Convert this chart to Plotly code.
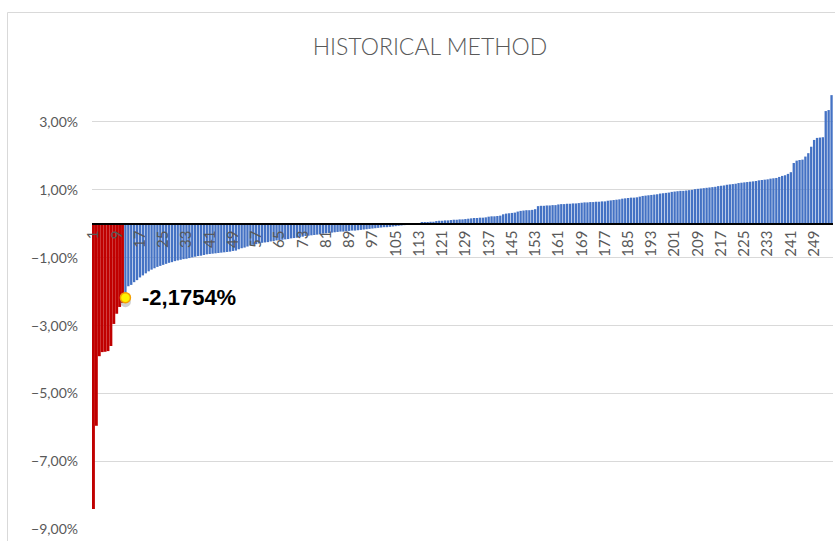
import plotly.graph_objects as go

# Sorted daily returns (in %)
returns_pct = [
    -8.40, -5.95, -3.90, -3.78, -3.77, -3.75, -3.60, -2.95, -2.65, -2.45,
    -2.33, -2.1754, -1.84, -1.80, -1.72, -1.66, -1.58, -1.52, -1.46, -1.40,
    -1.35, -1.31, -1.27, -1.24, -1.21, -1.18, -1.15, -1.13, -1.10, -1.08,
    -1.06, -1.04, -1.03, -1.01, -0.99, -0.97, -0.95, -0.94, -0.92, -0.90,
    -0.89, -0.88, -0.87, -0.86, -0.85, -0.84, -0.83, -0.82, -0.80, -0.79,
    -0.75, -0.72, -0.70, -0.67, -0.64, -0.62, -0.60, -0.58, -0.56, -0.55,
    -0.54, -0.52, -0.51, -0.49, -0.48, -0.47, -0.46, -0.45, -0.43, -0.42,
    -0.41, -0.39, -0.38, -0.36, -0.35, -0.34, -0.33, -0.32, -0.31, -0.29,
    -0.28, -0.27, -0.26, -0.25, -0.24, -0.23, -0.23, -0.22, -0.21, -0.20,
    -0.20, -0.19, -0.18, -0.17, -0.16, -0.15, -0.14, -0.13, -0.12, -0.11,
    -0.10, -0.10, -0.09, -0.08, -0.07, -0.06, -0.05, -0.04, -0.03, -0.02,
    -0.01, -0.01, 0.00, 0.04, 0.05, 0.05, 0.06, 0.06, 0.08, 0.09,
    0.09, 0.10, 0.10, 0.11, 0.12, 0.12, 0.13, 0.13, 0.14, 0.15,
    0.16, 0.17, 0.17, 0.18, 0.18, 0.19, 0.21, 0.22, 0.22, 0.23,
    0.24, 0.28, 0.30, 0.31, 0.32, 0.33, 0.36, 0.38, 0.39, 0.40,
    0.40, 0.41, 0.43, 0.52, 0.53, 0.53, 0.54, 0.54, 0.55, 0.55,
    0.57, 0.58, 0.58, 0.59, 0.59, 0.60, 0.60, 0.61, 0.62, 0.63,
    0.63, 0.64, 0.64, 0.65, 0.65, 0.66, 0.66, 0.68, 0.69, 0.70,
    0.71, 0.72, 0.74, 0.75, 0.76, 0.77, 0.77, 0.78, 0.80, 0.82,
    0.83, 0.84, 0.85, 0.86, 0.87, 0.89, 0.90, 0.91, 0.92, 0.94,
    0.95, 0.96, 0.97, 0.97, 0.98, 0.99, 1.00, 1.02, 1.03, 1.04,
    1.05, 1.06, 1.07, 1.08, 1.09, 1.11, 1.12, 1.13, 1.15, 1.16,
    1.17, 1.18, 1.20, 1.21, 1.22, 1.23, 1.24, 1.25, 1.26, 1.28,
    1.29, 1.30, 1.31, 1.33, 1.34, 1.35, 1.38, 1.41, 1.43, 1.47,
    1.52, 1.79, 1.86, 1.88, 1.89, 1.98, 2.08, 2.27, 2.47, 2.53,
    2.54, 2.55, 3.32, 3.35, 3.79,
]
var_index = 12
var_pct = -2.1754

observations = list(range(1, len(returns_pct) + 1))
tick_positions = list(range(1, len(returns_pct) + 1, 8))
tick_labels = [str(t) for t in tick_positions]
y_ticks = [-0.09, -0.07, -0.05, -0.03, -0.01, 0.01, 0.03]
y_min, y_max = -0.0902, 0.04

RED = "#C00000"
BLUE = "#4472C4"
GREY = "#595959"

tail = [v / 100 if v < var_pct else None for v in returns_pct]
body = [v / 100 if v >= var_pct else None for v in returns_pct]

fig = go.Figure()
fig.add_trace(go.Bar(x=observations, y=body, width=0.8,
                     marker=dict(color=BLUE, line=dict(width=0)), hoverinfo="skip"))
fig.add_trace(go.Bar(x=observations, y=tail, width=1.0,
                     marker=dict(color=RED, line=dict(width=0)), hoverinfo="skip"))
# soft shadow under the VaR marker
fig.add_trace(go.Scatter(
    x=[var_index], y=[(var_pct - 0.12) / 100], mode="markers",
    marker=dict(size=11, color="rgba(120,120,120,0.35)", line=dict(width=0)),
    cliponaxis=False, hoverinfo="skip",
))
fig.add_trace(go.Scatter(
    x=[var_index], y=[var_pct / 100], mode="markers",
    marker=dict(size=10, color="#FFF200", line=dict(color="#F5A000", width=1.5)),
    cliponaxis=False, hoverinfo="skip",
))

W, H = 835, 541
L, R, T, B = 92, 2, 88, 11
pw, ph = W - L - R, H - T - B

fig.update_layout(
    width=W, height=H,
    margin=dict(l=L, r=R, t=T, b=B),
    plot_bgcolor="white", paper_bgcolor="white",
    separators=",.",
    showlegend=False,
    barmode="overlay",
    title=dict(text="HISTORICAL METHOD", x=430 / W, xanchor="center",
               y=1 - 47 / H, yanchor="middle",
               font=dict(family="Lato", size=23, color=GREY, weight=300)),
    xaxis=dict(range=[0.5, len(returns_pct) + 0.5], anchor="free",
               position=-y_min / (y_max - y_min),
               tickvals=tick_positions, ticktext=tick_labels, tickangle=-90,
               tickfont=dict(family="Lato", size=15, color=GREY),
               showline=True, linecolor="black", linewidth=1.5,
               showgrid=False, zeroline=False, ticks=""),
    yaxis=dict(range=[y_min, y_max], tickvals=y_ticks, tickformat=".2%",
               tickfont=dict(family="Lato", size=14, color=GREY),
               gridcolor="#D9D9D9", gridwidth=1, zeroline=False,
               showline=False, ticks="", ticklabelstandoff=13),
    annotations=[dict(x=var_index, y=var_pct / 100, xref="x", yref="y",
                      text="<b>" + f"{var_pct:.4f}%".replace(".", ",") + "</b>",
                      showarrow=False, xanchor="left", yanchor="middle", xshift=15,
                      font=dict(family="Liberation Sans", size=22, color="black"))],
    shapes=[dict(type="rect", xref="paper", yref="paper",
                 x0=(7.5 - L) / pw, x1=1.2, y0=-0.2, y1=(H - B - 12.5) / ph,
                 line=dict(color="#D9D9D9", width=1), layer="below")],
)

fig.write_html("out.html", config={"displayModeBar": False},
               post_script="document.body.style.margin='0';")
